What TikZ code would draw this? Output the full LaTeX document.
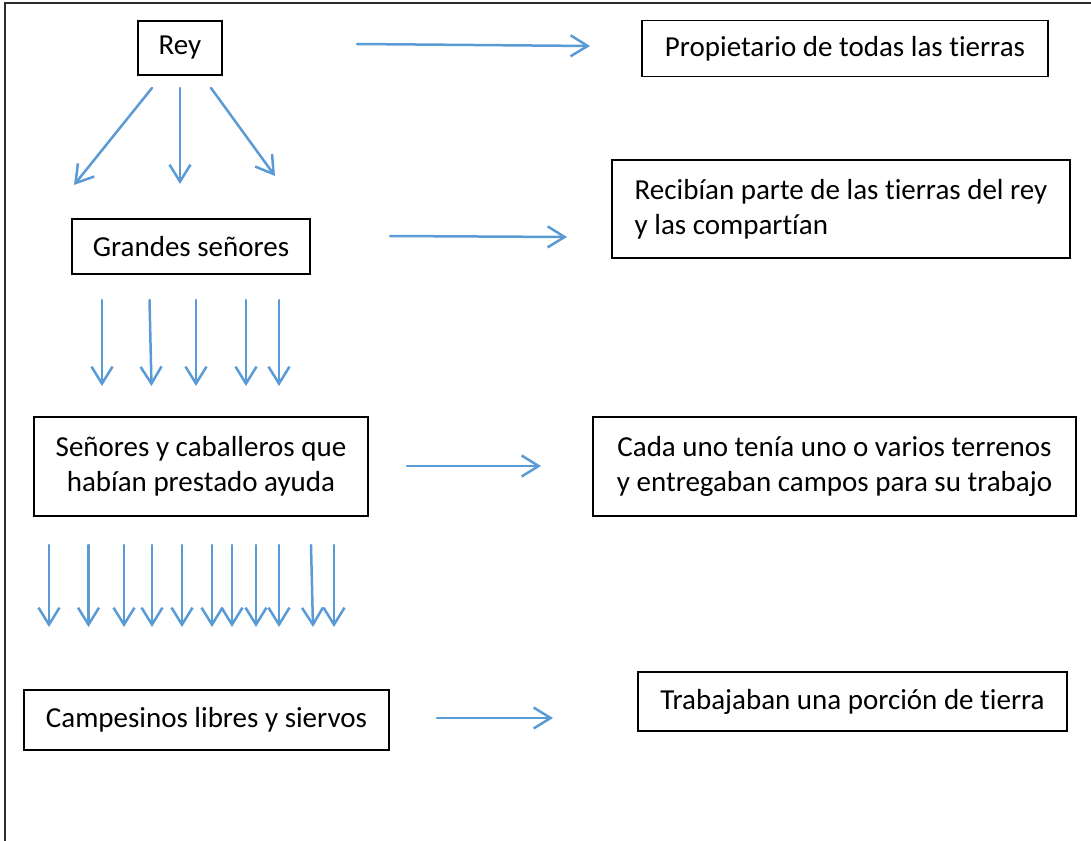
\documentclass[tikz,border=0pt]{standalone}
\usepackage{fontspec}
\setmainfont{Carlito}[Ligatures=NoCommon]
\usetikzlibrary{arrows.meta}
\definecolor{arrowblue}{HTML}{5B9BD5}
\definecolor{framegray}{HTML}{2B2B2B}
\begin{document}
\begin{tikzpicture}[x=1pt,y=-1pt,
  box/.style={draw=black, line width=1.4pt, inner sep=0pt, align=center,
    font=\fontsize{29}{35.4}\selectfont},
  arr/.style={draw=arrowblue, line width=2.5pt, line cap=round,
    -{Straight Barb[length=17pt,width=21pt,line width=2.5pt]}}]
\useasboundingbox (0,0) rectangle (1091,840);
% outer frame (only top and left visible)
\coordinate (fbl) at (5,841);
\coordinate (ftl) at (5,3.5);
\coordinate (ftr) at (1092,3.5);
\draw[framegray, line width=2pt] (fbl) -- (ftl) -- (ftr);

% boxes
\node[box, minimum width=84pt, minimum height=54pt] (rey) at (180,48) {Rey};
\node[box, minimum width=406pt, minimum height=56pt] (prop) at (845,48.5) {Propietario de todas las tierras};
\node[box, minimum width=238pt, minimum height=55pt] (gs) at (191,246.5) {Grandes señores};
\node[box, align=left, minimum width=458pt, minimum height=98pt] (rec) at (841,209) {Recibían parte de las tierras del rey\\y las compartían};
\node[box, minimum width=334pt, minimum height=99pt] (sen) at (201,466.5) {Señores y caballeros que\\habían prestado ayuda};
\node[box, minimum width=483pt, minimum height=99pt] (cada) at (834.5,466.5) {Cada uno tenía uno o varios terrenos\\y entregaban campos para su trabajo};
\node[box, minimum width=365pt, minimum height=60pt] (camp) at (206.5,720) {Campesinos libres y siervos};
\node[box, minimum width=429pt, minimum height=59pt] (trab) at (852.5,701.5) {Trabajaban una porción de tierra};

% horizontal arrows
\coordinate (h1s) at (357,44);  \coordinate (h1e) at (590,46);
\coordinate (h2s) at (390,236); \coordinate (h2e) at (567,237);
\coordinate (h3s) at (407,466); \coordinate (h3e) at (541,466);
\coordinate (h4s) at (437,718); \coordinate (h4e) at (553,718);
\draw[arr] (h1s) -- (h1e);
\draw[arr] (h2s) -- (h2e);
\draw[arr] (h3s) -- (h3e);
\draw[arr] (h4s) -- (h4e);

% arrows from Rey
\coordinate (r1s) at (152,88); \coordinate (r1e) at (74,185);
\coordinate (r2s) at (180,88); \coordinate (r2e) at (180,184);
\coordinate (r3s) at (211,88); \coordinate (r3e) at (275,176);
\draw[arr] (r1s) -- (r1e);
\draw[arr] (r2s) -- (r2e);
\draw[arr] (r3s) -- (r3e);

% arrows below Grandes señores
\foreach \i/\xa/\xb in {1/102/102, 2/149.5/151.5, 3/196/196, 4/246/246, 5/279/279}{
  \coordinate (g\i s) at (\xa,300);
  \coordinate (g\i e) at (\xb,386);
  \draw[arr] (g\i s) -- (g\i e);
}

% arrows below Señores y caballeros
\foreach \i/\xa/\xb in {1/49/49, 2/88.5/88.5, 3/124/124, 4/152/152, 5/182/182, 6/212/212, 7/232/232, 8/256/256, 9/279/279, 10/311/313, 11/334/334}{
  \coordinate (c\i s) at (\xa,545);
  \coordinate (c\i e) at (\xb,627);
  \draw[arr] (c\i s) -- (c\i e);
}
\end{tikzpicture}
\end{document}
